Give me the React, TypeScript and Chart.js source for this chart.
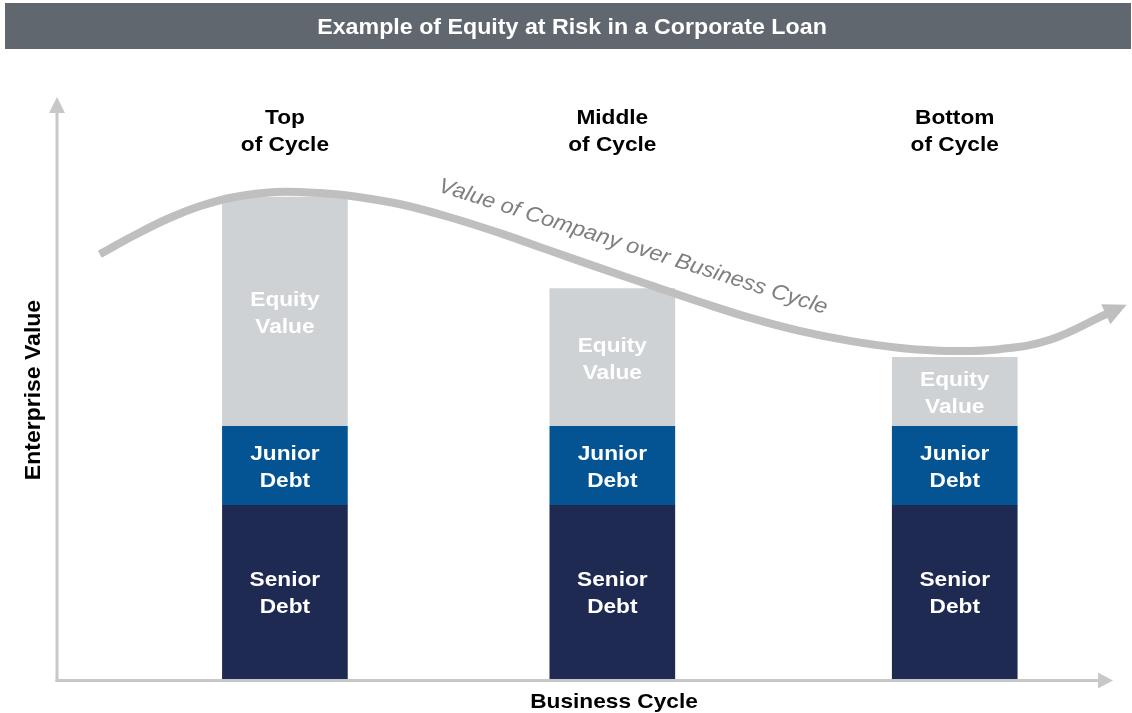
import React, { useEffect, useRef } from "react";
import { Chart, registerables } from "chart.js";

Chart.register(...registerables);

const TITLE = "Example of Equity at Risk in a Corporate Loan";
const Y_TITLE = "Enterprise Value";
const X_TITLE = "Business Cycle";
const CURVE_LABEL = "Value of Company over Business Cycle";

const STAGE_LABELS = [
  ["Top", "of Cycle"],
  ["Middle", "of Cycle"],
  ["Bottom", "of Cycle"],
];
const STAGE_POS = [21.3, 51.9, 83.9];

const SENIOR_DEBT = [29.5, 29.5, 29.5];
const JUNIOR_DEBT = [13.4, 13.4, 13.4];
const EQUITY_VALUE = [38.9, 23.4, 11.7];
const SEGMENT_NAMES = [
  ["Senior", "Debt"],
  ["Junior", "Debt"],
  ["Equity", "Value"],
];

const CURVE_X = [4.0, 7.1, 10.3, 13.4, 16.5, 20.4, 24.6, 28.3, 32.1, 36.7, 41.4, 46.1, 50.7, 55.4, 60.1, 64.8, 69.4, 74.1, 78.8, 83.5, 88.1, 92.8, 98.1];
const CURVE_Y = [72.1, 75.2, 78.1, 80.3, 81.8, 82.7, 82.5, 81.8, 80.6, 78.4, 75.7, 72.7, 69.8, 66.9, 64.0, 61.3, 59.1, 57.4, 56.2, 55.7, 56.0, 57.6, 62.0];

const FONT = "'Liberation Sans', Arial, sans-serif";
const AXIS_COLOR = "#c8c8c8";
const CURVE_COLOR = "#bfbfbf";
const COLORS = ["#1f2a52", "#045494", "#cfd2d5"];
const SX = 1.08;

function text(ctx: CanvasRenderingContext2D, s: string, x: number, y: number, rot = 0) {
  ctx.save();
  ctx.translate(x, y);
  if (rot) ctx.rotate(rot);
  ctx.scale(SX, 1);
  ctx.fillText(s, 0, 0);
  ctx.restore();
}

const decorPlugin = {
  id: "decor",
  beforeDraw(chart: any) {
    const ctx = chart.ctx;
    ctx.save();
    ctx.fillStyle = "#60676e";
    ctx.fillRect(5, 3, 1126, 46);
    ctx.fillStyle = "#ffffff";
    ctx.font = `bold 21.5px ${FONT}`;
    ctx.textAlign = "center";
    ctx.textBaseline = "middle";
    text(ctx, TITLE, 572, 28);
    ctx.restore();
  },
  beforeDatasetsDraw(chart: any) {
    const { ctx, chartArea, scales } = chart;
    const y = scales.y;
    const left = chartArea.left;
    const base = y.getPixelForValue(0) + 1.5;
    ctx.save();
    ctx.strokeStyle = AXIS_COLOR;
    ctx.fillStyle = AXIS_COLOR;
    ctx.lineWidth = 3;
    // y axis
    ctx.beginPath();
    ctx.moveTo(left, base + 1.5);
    ctx.lineTo(left, chartArea.top + 20);
    ctx.stroke();
    ctx.beginPath();
    ctx.moveTo(left, chartArea.top + 7);
    ctx.lineTo(left - 8, chartArea.top + 23);
    ctx.lineTo(left + 8, chartArea.top + 23);
    ctx.closePath();
    ctx.fill();
    // x axis
    const xEnd = chartArea.right - 14;
    ctx.beginPath();
    ctx.moveTo(left - 1.5, base);
    ctx.lineTo(xEnd - 14, base);
    ctx.stroke();
    ctx.beginPath();
    ctx.moveTo(xEnd, base);
    ctx.lineTo(xEnd - 15, base - 8);
    ctx.lineTo(xEnd - 15, base + 8);
    ctx.closePath();
    ctx.fill();

    // axis titles
    ctx.fillStyle = "#000";
    ctx.font = `bold 21px ${FONT}`;
    ctx.textAlign = "center";
    ctx.textBaseline = "middle";
    text(ctx, X_TITLE, 614, base + 22);
    ctx.font = `bold 21.3px ${FONT}`;
    text(ctx, Y_TITLE, 34, 390, -Math.PI / 2);
    ctx.restore();
  },
  afterDatasetsDraw(chart: any) {
    const { ctx, chartArea, scales } = chart;
    const x = scales.x;
    const y = scales.y;
    ctx.save();

    // arrow head on curve
    const meta = chart.getDatasetMeta(3);
    const pts = meta.data;
    const last = pts[pts.length - 1];
    const prev = pts[pts.length - 2];
    let dx = last.x - (last.cp1x ?? prev.x);
    let dy = last.y - (last.cp1y ?? prev.y);
    const len = Math.hypot(dx, dy) || 1;
    dx /= len;
    dy /= len;
    const px = -dy;
    const py = dx;
    ctx.fillStyle = CURVE_COLOR;
    ctx.beginPath();
    ctx.moveTo(last.x + dx * 22, last.y + dy * 22);
    ctx.lineTo(last.x + px * 11 - dx * 1, last.y + py * 11 - dy * 1);
    ctx.lineTo(last.x - px * 11 - dx * 1, last.y - py * 11 - dy * 1);
    ctx.closePath();
    ctx.fill();

    // curve label
    ctx.fillStyle = "#7f7f7f";
    ctx.font = `italic 21.5px ${FONT}`;
    ctx.textAlign = "center";
    ctx.textBaseline = "middle";
    text(ctx, CURVE_LABEL, 633, 247, (17.6 * Math.PI) / 180);

    // stage headers
    ctx.fillStyle = "#000";
    ctx.font = `bold 21px ${FONT}`;
    STAGE_POS.forEach((p, i) => {
      const cx = x.getPixelForValue(p);
      text(ctx, STAGE_LABELS[i][0], cx, chartArea.top + 28);
      text(ctx, STAGE_LABELS[i][1], cx, chartArea.top + 55);
    });

    // segment labels
    ctx.fillStyle = "#ffffff";
    ctx.font = `bold 21px ${FONT}`;
    const series = [SENIOR_DEBT, JUNIOR_DEBT, EQUITY_VALUE];
    STAGE_POS.forEach((p, i) => {
      const cx = x.getPixelForValue(p);
      let cum = 0;
      series.forEach((s, k) => {
        const y0 = y.getPixelForValue(cum);
        const y1 = y.getPixelForValue(cum + s[i]);
        cum += s[i];
        const cy = (y0 + y1) / 2 + 2;
        text(ctx, SEGMENT_NAMES[k][0], cx, cy - 13.5);
        text(ctx, SEGMENT_NAMES[k][1], cx, cy + 13.5);
      });
    });
    ctx.restore();
  },
};

export default function App() {
  const ref = useRef<HTMLCanvasElement | null>(null);
  useEffect(() => {
    if (!ref.current) return;
    const mk = (vals: number[]) => STAGE_POS.map((p, i) => ({ x: p, y: vals[i] }));
    const chart = new Chart(ref.current, {
      type: "bar",
      data: {
        datasets: [
          { type: "bar", label: "Senior Debt", data: mk(SENIOR_DEBT), backgroundColor: COLORS[0], barThickness: 125, order: 1 } as any,
          { type: "bar", label: "Junior Debt", data: mk(JUNIOR_DEBT), backgroundColor: COLORS[1], barThickness: 125, order: 1 } as any,
          { type: "bar", label: "Equity Value", data: mk(EQUITY_VALUE), backgroundColor: COLORS[2], barThickness: 125, order: 1 } as any,
          {
            type: "line",
            label: "Value of Company",
            data: CURVE_X.map((cx, i) => ({ x: cx, y: CURVE_Y[i] })),
            borderColor: CURVE_COLOR,
            borderWidth: 8,
            pointRadius: 0,
            tension: 0.4,
            fill: false,
            yAxisID: "y2",
            order: 0,
            clip: false,
          } as any,
        ],
      },
      options: {
        animation: false,
        responsive: false,
        layout: { padding: { left: 57, right: 5, top: 90, bottom: 34 } },
        plugins: {
          legend: { display: false },
          tooltip: { enabled: false },
          title: { display: false },
        },
        scales: {
          x: { type: "linear", min: 0, max: 100, display: false, stacked: true, offset: false },
          y: { min: 0, max: 100, display: false, stacked: true },
          y2: { min: 0, max: 100, display: false },
        },
      } as any,
      plugins: [decorPlugin],
    });
    return () => chart.destroy();
  }, []);
  return (
    <div style={{ position: "absolute", left: 0, top: 0, width: 1132, height: 713, background: "#fff" }}>
      <canvas ref={ref} width={1132} height={713} style={{ display: "block" }} />
    </div>
  );
}
